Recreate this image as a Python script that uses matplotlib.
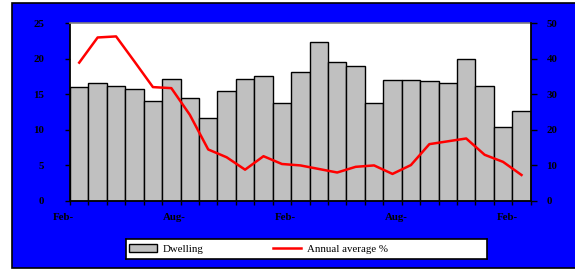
import matplotlib
matplotlib.use("Agg")
import matplotlib.pyplot as plt
from matplotlib.patches import Rectangle, Patch
from matplotlib.lines import Line2D
import numpy as np

# ---- data ----
dwelling = [16.0, 16.6, 16.2, 15.8, 14.0, 17.2, 14.5, 11.7, 15.5, 17.2, 17.5, 13.8,
            18.1, 22.4, 19.6, 19.0, 13.8, 17.0, 17.0, 16.8, 16.6, 20.0, 16.2, 10.4, 12.6]
annual_avg = [38.9, 46.0, 46.3, 39.2, 32.0, 31.7, 24.2, 14.4, 12.2, 8.7, 12.5, 10.3,
              9.9, 8.9, 7.9, 9.5, 9.9, 7.5, 10.0, 15.9, 16.7, 17.5, 12.9, 10.9, 7.2]
month_labels = ["Feb-", "Aug-", "Feb-", "Aug-", "Feb-"]
left_ticks = [0, 5, 10, 15, 20, 25]
right_ticks = [0, 10, 20, 30, 40, 50]

W, H = 575, 270
fig = plt.figure(figsize=(W / 100, H / 100), dpi=100)
fig.patch.set_facecolor("white")

# blue panel
bg = Rectangle((12 / W, 2 / H), (W - 10) / W, 265 / H, transform=fig.transFigure,
               facecolor="#0000FF", edgecolor="black", linewidth=1.2, zorder=0)
fig.add_artist(bg)

font_b = dict(family="Liberation Serif", weight="bold", size=7.8)

ax = fig.add_axes([70 / W, (H - 200.5) / H, 460.7 / W, 177.2 / H])
ax.set_facecolor("white")
x = np.arange(len(dwelling))
ax.bar(x, dwelling, width=1.0, color="#C0C0C0", edgecolor="black", linewidth=1.0, zorder=2)
ax.set_ylim(0, 25)
ax.set_yticks(left_ticks)
ax.set_yticklabels([str(t) for t in left_ticks], **font_b)
ax.tick_params(axis="y", direction="out", length=3.6, width=1, pad=15, colors="black")
for s in ["left", "bottom"]:
    ax.spines[s].set_color("black")
    ax.spines[s].set_linewidth(1.3)
ax.spines["top"].set_color("#808080")
ax.spines["top"].set_linewidth(1.2)
ax.spines["right"].set_visible(False)

ax2 = ax.twinx()
ax2.plot(x, annual_avg, color="#FF0000", linewidth=1.8, zorder=3)
ax2.set_ylim(0, 50)
ax2.set_yticks(right_ticks)
ax2.set_yticklabels([str(t) for t in right_ticks], **font_b)
ax2.tick_params(axis="y", direction="out", length=4.3, width=1, pad=7, colors="black")
ax2.spines["right"].set_color("black")
ax2.spines["right"].set_linewidth(1.3)
for s in ["left", "top", "bottom"]:
    ax2.spines[s].set_visible(False)

ax.set_xticks(np.arange(-0.5, len(dwelling) + 0.5, 1.0))
ax.set_xticklabels([])
ax.tick_params(axis="x", direction="out", length=3, width=1)
ax.set_xlim(-0.5, len(dwelling) - 0.5)
for k, lbl in enumerate(month_labels):
    ax.annotate(lbl, xy=(-0.88 + 6.03 * k, 0), xycoords=ax.get_xaxis_transform(),
                xytext=(0, -9), textcoords="offset points", ha="center", va="top",
                annotation_clip=False, **font_b)

# legend box
lax = fig.add_axes([126 / W, (H - 259) / H, 361 / W, 20 / H])
lax.set_facecolor("white")
lax.set_xticks([])
lax.set_yticks([])
for s in lax.spines.values():
    s.set_color("black")
    s.set_linewidth(1.2)
handles = [Patch(facecolor="#C0C0C0", edgecolor="black", linewidth=1.0),
           Line2D([0], [0], color="#FF0000", linewidth=1.8)]
lax.legend(handles, ["Dwelling", "Annual average %"], loc="center left", ncol=2,
           frameon=False, prop=dict(family="Liberation Serif", size=7.8),
           handlelength=2.6, handleheight=0.8, handletextpad=0.5, columnspacing=6.4,
           borderaxespad=0.0, borderpad=0.3, bbox_to_anchor=(0.0, 0.5))

fig.savefig("out.png", dpi=100)
